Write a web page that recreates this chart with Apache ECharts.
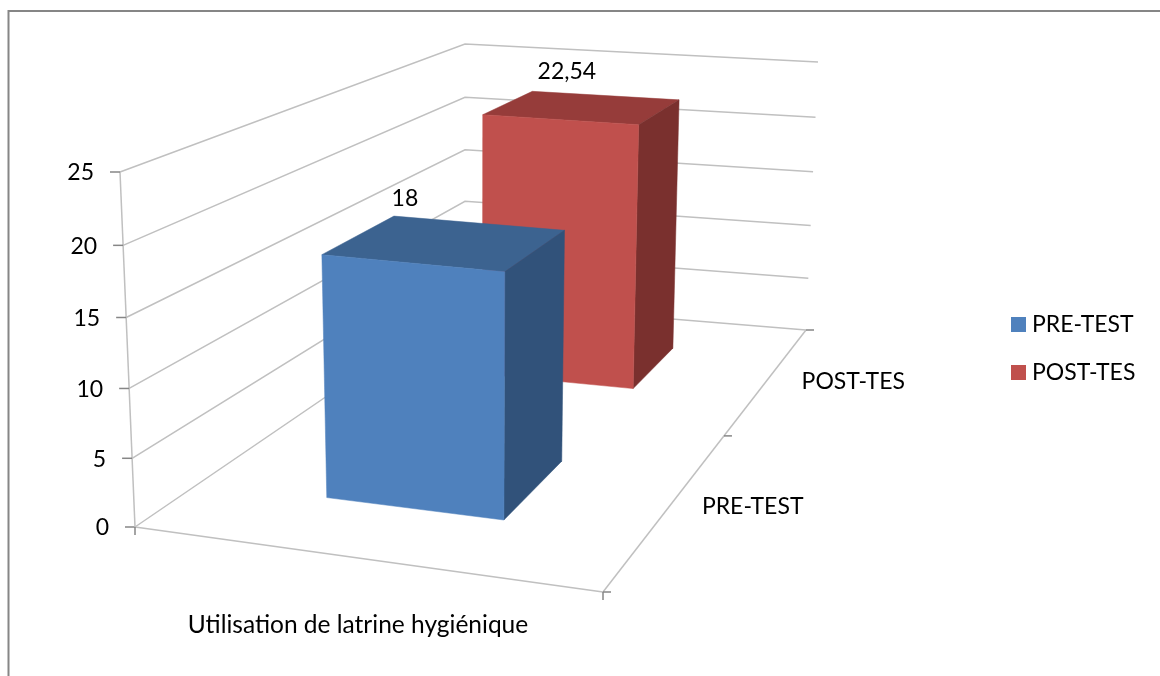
<!DOCTYPE html>
<html>
<head>
<meta charset="utf-8">
<style>
  html, body { margin: 0; padding: 0; background: #fff; }
  #chart { width: 1160px; height: 676px; }
</style>
<script src="https://cdn.jsdelivr.net/npm/echarts@6/dist/echarts.min.js"></script>
</head>
<body>
<div id="chart"></div>
<script>
const categories = ['Utilisation de latrine hygiénique'];
const depthCategories = ['PRE-TEST', 'POST-TES'];
const preTest = [18];
const postTest = [22.54];
const yTicks = [0, 5, 10, 15, 20, 25];

const FONT = 'Lato';
const GRID_TOP = 172;
const GRID_BOTTOM = 529;

// corners of the box (x along the front, z into the depth)
const floorCorners = [[135, 527], [603, 592], [806, 330], [465, 302]];
const topCorners = [[120, 172], [611, 216], [818, 62], [465, 44]];

function makeHomography(q) {
  const dx1 = q[1][0] - q[2][0], dx2 = q[3][0] - q[2][0], sx = q[0][0] - q[1][0] + q[2][0] - q[3][0];
  const dy1 = q[1][1] - q[2][1], dy2 = q[3][1] - q[2][1], sy = q[0][1] - q[1][1] + q[2][1] - q[3][1];
  const den = dx1 * dy2 - dx2 * dy1;
  const g = (sx * dy2 - dx2 * sy) / den;
  const h = (dx1 * sy - sx * dy1) / den;
  const a = q[1][0] - q[0][0] + g * q[1][0];
  const b = q[3][0] - q[0][0] + h * q[3][0];
  const d = q[1][1] - q[0][1] + g * q[1][1];
  const e = q[3][1] - q[0][1] + h * q[3][1];
  return (x, z) => {
    const w = g * x + h * z + 1;
    return [(a * x + b * z + q[0][0]) / w, (d * x + e * z + q[0][1]) / w];
  };
}
const floorAt = makeHomography(floorCorners);
const topAt = makeHomography(topCorners);

// x, z in 0..1, py is the pixel the value axis gives for the height
function project(x, py, z) {
  const t = (GRID_BOTTOM - py) / (GRID_BOTTOM - GRID_TOP);
  const k = 0.96;
  const s = t * k / ((1 - t) + t * k);
  const f = floorAt(x, z), p = topAt(x, z);
  return [f[0] + (p[0] - f[0]) * s, f[1] + (p[1] - f[1]) * s];
}

function line(a, b, color, width) {
  return {
    type: 'line',
    shape: { x1: a[0], y1: a[1], x2: b[0], y2: b[1] },
    style: { stroke: color, lineWidth: width, fill: null }
  };
}

function label(text, x, y, align) {
  return {
    type: 'text',
    style: {
      text: text, x: x, y: y, align: align, verticalAlign: 'middle',
      font: '23px ' + FONT, fill: '#000'
    }
  };
}

const GRID_COLOR = '#c0c0c0';
const TICK_COLOR = '#868686';

function renderFrame(params, api) {
  const tick = api.value(1);
  const py = api.coord([0, tick])[1];
  const a = project(0, py, 0), d = project(0, py, 1), c = project(1, py, 1);
  const children = [
    { type: 'polyline', shape: { points: [a, d, c] }, style: { stroke: GRID_COLOR, lineWidth: 1.5, fill: null } },
    line([a[0] - 10, a[1]], a, TICK_COLOR, 1.5),
    label(String(tick), a[0] - 26, a[1] + 1, 'right')
  ];
  if (tick === 0) {
    const b = project(1, py, 0);
    const mid = project(1, py, 0.5);
    const left = project(0, GRID_TOP, 0);
    children.push(line(a, left, GRID_COLOR, 1.5));
    children.push(line(a, b, GRID_COLOR, 1.5));
    children.push(line(b, c, GRID_COLOR, 1.5));
    children.push(line(a, [a[0], a[1] + 8], TICK_COLOR, 1.5));
    children.push(line(b, [b[0], b[1] + 8], TICK_COLOR, 1.5));
    children.push(line(b, [b[0] + 8, b[1]], TICK_COLOR, 1.5));
    children.push(line(mid, [mid[0] + 8, mid[1]], TICK_COLOR, 1.5));
    children.push(line(c, [c[0] + 8, c[1]], TICK_COLOR, 1.5));
    depthCategories.forEach((name, i) => {
      const p = project(1, py, (i + 0.5) / depthCategories.length);
      const off = [[32, 1], [33, 3]][i];
      children.push(label(name, p[0] + off[0], p[1] + off[1], 'left'));
    });
  }
  return { type: 'group', children: children };
}

const BAR_X = [0.302, 0.702];
const BAR_DEPTH = 0.2;

function renderBar(depthIndex, faces, labelOffset) {
  return (params, api) => {
    const value = api.value(1);
    const top = api.coord([0, value])[1];
    const base = api.coord([0, 0])[1];
    const zc = (depthIndex + 0.5) / depthCategories.length;
    const z0 = zc - BAR_DEPTH / 2, z1 = zc + BAR_DEPTH / 2;
    const x0 = BAR_X[0], x1 = BAR_X[1];
    const poly = (points, fill) => ({
      type: 'polygon', shape: { points: points }, style: { fill: fill, stroke: fill, lineWidth: 0.5 }
    });
    const tl = project(x0, top, z0), tr = project(x1, top, z0);
    const bl = project(x0, top, z1), br = project(x1, top, z1);
    const centre = project(0.5, top, zc);
    return {
      type: 'group',
      children: [
        poly([tl, tr, br, bl], faces.top),
        poly([tr, br, project(x1, base, z1), project(x1, base, z0)], faces.side),
        poly([tl, tr, project(x1, base, z0), project(x0, base, z0)], faces.front),
        label(String(value).replace('.', ','), centre[0] + labelOffset[0], centre[1] + labelOffset[1], 'center')
      ]
    };
  };
}

const chart = echarts.init(document.getElementById('chart'));
chart.setOption({
  backgroundColor: '#fff',
  animation: false,
  graphic: [
    { type: 'polyline', shape: { points: [[8.5, 676], [8.5, 11], [1160, 11]] }, style: { stroke: '#868686', lineWidth: 2, fill: null } }
  ],
  legend: {
    data: depthCategories,
    orient: 'vertical',
    left: 1006,
    top: 308,
    itemWidth: 15,
    itemHeight: 15,
    itemGap: 25,
    icon: 'rect',
    selectedMode: false,
    textStyle: { fontFamily: FONT, fontSize: 23, color: '#000', padding: [0, 0, 0, 1] }
  },
  grid: { left: 102, width: 512, top: GRID_TOP, height: GRID_BOTTOM - GRID_TOP },
  xAxis: {
    type: 'category',
    data: categories,
    axisLine: { show: false },
    axisTick: { show: false },
    axisLabel: { margin: 84, fontFamily: FONT, fontSize: 24.5, color: '#000' }
  },
  yAxis: {
    type: 'value',
    min: 0,
    max: 25,
    interval: 5,
    axisLine: { show: false },
    axisTick: { show: false },
    axisLabel: { show: false },
    splitLine: { show: false }
  },
  series: [
    {
      name: 'frame',
      type: 'custom',
      z: 1,
      silent: true,
      renderItem: renderFrame,
      encode: { x: 0, y: 1 },
      data: yTicks.map(t => [0, t])
    },
    {
      name: depthCategories[0],
      type: 'custom',
      z: 3,
      itemStyle: { color: '#4f81bd' },
      renderItem: renderBar(0, { front: '#4f81bd', top: '#3c6390', side: '#31527a' }, [-40, -44]),
      encode: { x: 0, y: 1 },
      data: preTest.map((v, i) => [i, v])
    },
    {
      name: depthCategories[1],
      type: 'custom',
      z: 2,
      itemStyle: { color: '#c0504d' },
      renderItem: renderBar(1, { front: '#c0504d', top: '#963c3a', side: '#7a302e' }, [-15, -36]),
      encode: { x: 0, y: 1 },
      data: postTest.map((v, i) => [i, v])
    }
  ]
});
</script>
</body>
</html>
